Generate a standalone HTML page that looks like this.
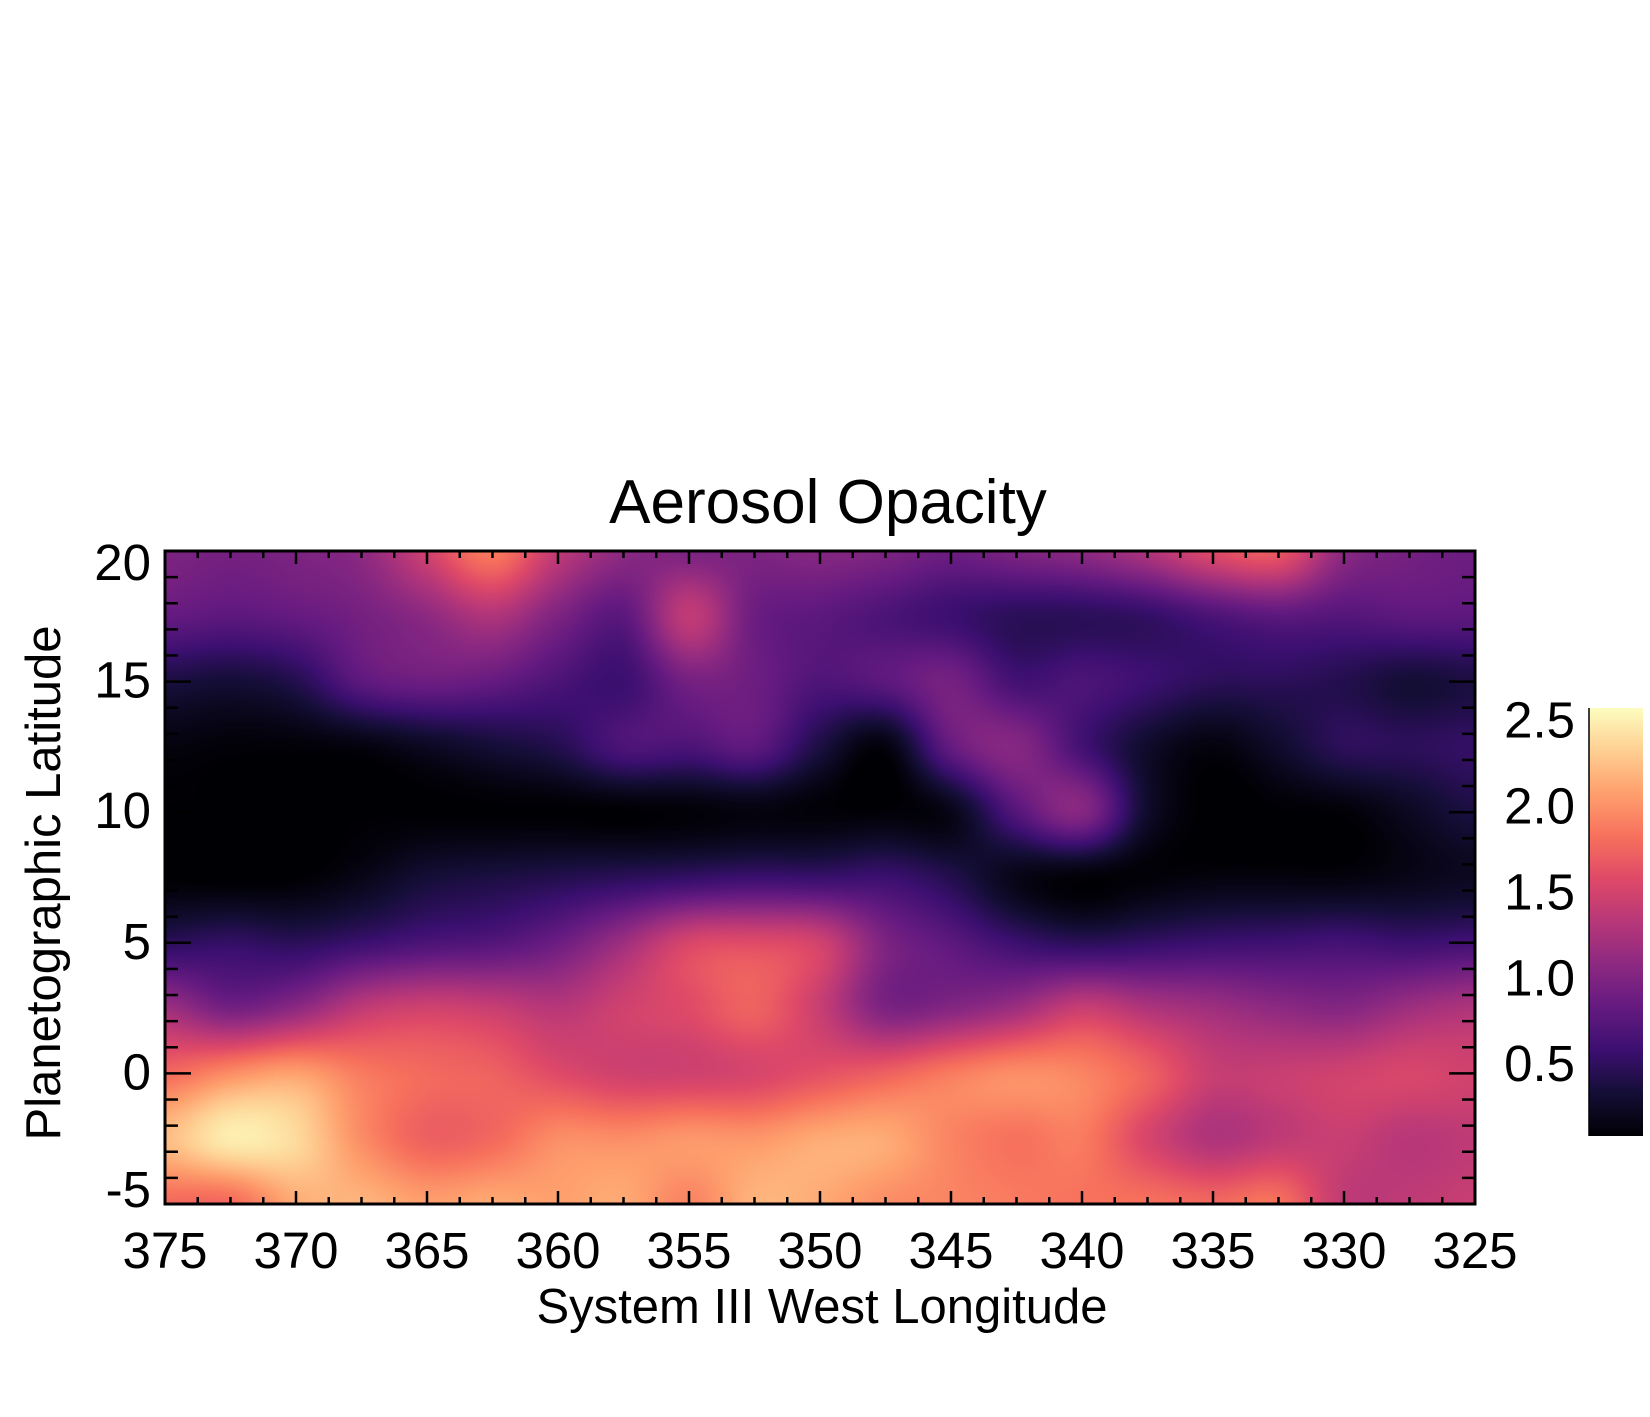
<!DOCTYPE html>
<html><head><meta charset="utf-8">
<style>
html,body{margin:0;padding:0;background:#fff;}
#wrap{position:relative;width:1650px;height:1417px;overflow:hidden;font-family:"Liberation Sans",sans-serif;}
canvas{position:absolute;left:165px;top:551px;}
svg{position:absolute;left:0;top:0;}
text{font-family:"Liberation Sans",sans-serif;fill:#000;}
</style></head>
<body>
<div id="wrap">
<canvas id="heat" width="1310" height="653"></canvas>
<svg id="ov" width="1650" height="1417">
<defs>
<linearGradient id="cbg" x1="0" y1="1" x2="0" y2="0"></linearGradient>
</defs>
<text x="828" y="523" font-size="62" text-anchor="middle">Aerosol Opacity</text>
<text x="822" y="1323" font-size="49" text-anchor="middle">System III West Longitude</text>
<text transform="translate(60,883) rotate(-90)" font-size="49" text-anchor="middle">Planetographic Latitude</text>
<g id="axes"></g>
</svg>
</div>
<script>
// ---- data ----
const lons = [375,372.5,370,367.5,365,362.5,360,357.5,355,352.5,350,347.5,345,342.5,340,337.5,335,332.5,330,327.5,325];
const lats = [20,17.5,15,12.5,10,7.5,5,2.5,0,-2.5,-5];
const row20  = [1.0,0.95,1.0,1.1,1.5,1.9,1.4,1.1,1.0,1.0,1.05,1.0,0.9,1.0,1.1,1.3,1.6,1.7,1.1,0.95,0.9];
const row175 = [0.85,0.8,0.85,0.95,1.1,1.3,1.0,0.8,1.4,0.9,0.8,0.7,0.6,0.5,0.5,0.55,0.7,0.8,0.75,0.8,0.8];
const row15  = [0.4,0.35,0.45,0.8,0.9,0.85,0.7,0.6,0.95,0.9,0.72,0.8,0.95,0.65,0.7,0.6,0.5,0.5,0.45,0.35,0.4];
const row125 = [0.15,0.12,0.12,0.15,0.25,0.35,0.45,0.7,0.7,0.8,0.4,0.15,0.85,1.05,0.65,0.3,0.15,0.3,0.5,0.5,0.55];
const row10  = [0.1,0.1,0.1,0.1,0.1,0.1,0.1,0.1,0.12,0.15,0.12,0.12,0.2,0.75,1.05,0.3,0.08,0.1,0.12,0.25,0.4];
const row75  = [0.1,0.08,0.1,0.2,0.35,0.4,0.45,0.5,0.55,0.6,0.58,0.6,0.45,0.2,0.12,0.12,0.15,0.15,0.15,0.2,0.25];
const row5   = [0.5,0.55,0.5,0.6,0.7,0.75,0.9,1.2,1.55,1.6,1.5,1.0,0.8,0.6,0.5,0.55,0.6,0.62,0.65,0.6,0.65];
const row25  = [1.2,0.95,1.1,1.4,1.5,1.45,1.35,1.5,1.6,1.75,1.45,1.0,1.05,1.2,1.45,1.3,1.2,1.1,1.05,1.2,1.3];
const row0   = [1.8,2.0,2.1,1.9,1.8,1.75,1.6,1.5,1.5,1.55,1.65,1.75,1.9,2.0,1.95,1.75,1.45,1.45,1.5,1.55,1.5];
const rowm25 = [2.25,2.5,2.4,2.0,1.75,1.8,2.0,2.0,2.05,2.05,2.15,2.15,1.95,1.85,1.9,1.55,1.3,1.4,1.45,1.35,1.4];
const rowm5  = [1.8,1.8,2.15,2.2,2.1,2.15,2.1,2.15,1.95,2.2,2.15,2.0,1.95,1.9,1.85,1.85,1.8,1.85,1.4,1.4,1.45];
const grid = [row20,row175,row15,row125,row10,row75,row5,row25,row0,rowm25,rowm5];
const xTicks = [375,370,365,360,355,350,345,340,335,330,325];
const yTicks = [20,15,10,5,0,-5];
const cbTicks = [0.5,1.0,1.5,2.0,2.5];
const vmin = 0.1, vmax = 2.59;

// ---- geometry ----
const PL=165, PR=1475, PT=551, PB=1204;
const xs = v => PL + (375 - v) / 50 * (PR - PL);
const ys = v => PT + (20 - v) / 25 * (PB - PT);
const CBL=1589, CBR=1643, CBT=708, CBB=1136;
const cs = v => CBB - (v - vmin) / (vmax - vmin) * (CBB - CBT);

// magma
const magma = [[0,0,0,4],[0.1,20,14,54],[0.2,59,15,112],[0.3,100,26,128],[0.4,140,41,129],[0.5,183,55,121],[0.6,222,73,104],[0.7,247,112,92],[0.8,254,159,109],[0.9,254,207,146],[1,252,253,191]];
function cmap(t){
  t=Math.max(0,Math.min(1,t));
  for(let i=1;i<magma.length;i++){
    if(t<=magma[i][0]){
      const a=magma[i-1],b=magma[i],f=(t-a[0])/(b[0]-a[0]);
      return [a[1]+(b[1]-a[1])*f,a[2]+(b[2]-a[2])*f,a[3]+(b[3]-a[3])*f];
    }
  }
  return magma[magma.length-1].slice(1);
}
function cr(p0,p1,p2,p3,t){
  return 0.5*((2*p1)+(-p0+p2)*t+(2*p0-5*p1+4*p2-p3)*t*t+(-p0+3*p1-3*p2+p3)*t*t*t);
}
function g(r,c){r=Math.max(0,Math.min(lats.length-1,r));c=Math.max(0,Math.min(lons.length-1,c));return grid[r][c];}
function sample(fr,fc){
  const r=Math.floor(fr),c=Math.floor(fc),tr=fr-r,tc=fc-c;
  const rowv=[];
  for(let k=-1;k<=2;k++){
    rowv.push(cr(g(r+k,c-1),g(r+k,c),g(r+k,c+1),g(r+k,c+2),tc));
  }
  return cr(rowv[0],rowv[1],rowv[2],rowv[3],tr);
}
// heatmap draw
const cv=document.getElementById('heat');
const ctx=cv.getContext('2d');
const W=cv.width,H=cv.height;
const img=ctx.createImageData(W,H);
const lonStep=lons[0]-lons[1], latStep=lats[0]-lats[1];
for(let py=0;py<H;py++){
  const lat=20-(py+0.5)/H*25;
  const fr=(lats[0]-lat)/latStep;
  for(let px=0;px<W;px++){
    const lon=375-(px+0.5)/W*50;
    const fc=(lons[0]-lon)/lonStep;
    const v=sample(fr,fc);
    const col=cmap((v-vmin)/(vmax-vmin));
    const i=(py*W+px)*4;
    img.data[i]=col[0];img.data[i+1]=col[1];img.data[i+2]=col[2];img.data[i+3]=255;
  }
}
ctx.putImageData(img,0,0);

// ---- axes ----
const NS='http://www.w3.org/2000/svg';
const axes=document.getElementById('axes');
function line(x1,y1,x2,y2,w,name){
  const l=document.createElementNS(NS,'line');
  l.setAttribute('x1',x1);l.setAttribute('y1',y1);l.setAttribute('x2',x2);l.setAttribute('y2',y2);
  l.setAttribute('stroke','#000');l.setAttribute('stroke-width',w);
  
  
  axes.appendChild(l);
}
function text(x,y,s,anchor,size,name){
  const t=document.createElementNS(NS,'text');
  t.setAttribute('x',x);t.setAttribute('y',y);t.setAttribute('font-size',size);t.setAttribute('text-anchor',anchor);
  t.textContent=s;
  
  
  axes.appendChild(t);
}
for(let v=375;v>=325-1e-6;v-=1.25){
  const x=xs(v);const major=Math.abs(v/5-Math.round(v/5))<1e-6;const L=major?13:7;
  line(x,PB,x,PB-L,2.5,'x-tick');
  line(x,PT,x,PT+L,2.5,'x-tick-top');
}
for(let v=20;v>=-5;v-=1){
  const y=ys(v);const major=v%5===0;const L=major?26:13;
  line(PL,y,PL+L,y,2.5,'y-tick');
  line(PR,y,PR-L,y,2.5,'y-tick-right');
}
const fr=document.createElementNS(NS,'rect');
fr.setAttribute('x',PL);fr.setAttribute('y',PT);fr.setAttribute('width',PR-PL);fr.setAttribute('height',PB-PT);
fr.setAttribute('fill','none');fr.setAttribute('stroke','#000');fr.setAttribute('stroke-width',3);


axes.appendChild(fr);
xTicks.forEach(v=>text(xs(v),1268,String(v),'middle',51,'x-tick-label'));
yTicks.forEach(v=>{
  const y=Math.max(562,Math.min(1189,ys(v)-2))+18;
  text(151,y,String(v),'end',51,'y-tick-label');
});
// colorbar
const grad=document.getElementById('cbg');
for(let i=0;i<=20;i++){
  const t=i/20;const c=cmap(t);
  const s=document.createElementNS(NS,'stop');
  s.setAttribute('offset',t);s.setAttribute('stop-color','rgb('+c.map(Math.round).join(',')+')');
  grad.appendChild(s);
}
const cb=document.createElementNS(NS,'rect');
cb.setAttribute('x',CBL);cb.setAttribute('y',CBT);cb.setAttribute('width',CBR-CBL);cb.setAttribute('height',CBB-CBT);
cb.setAttribute('fill','url(#cbg)');


axes.appendChild(cb);
line(CBL,CBT,CBL,CBB,1.5,'colorbar-edge');
cbTicks.forEach(v=>text(1575,cs(v)+14,v.toFixed(1),'end',51,'colorbar-label'));
</script>
</body></html>
